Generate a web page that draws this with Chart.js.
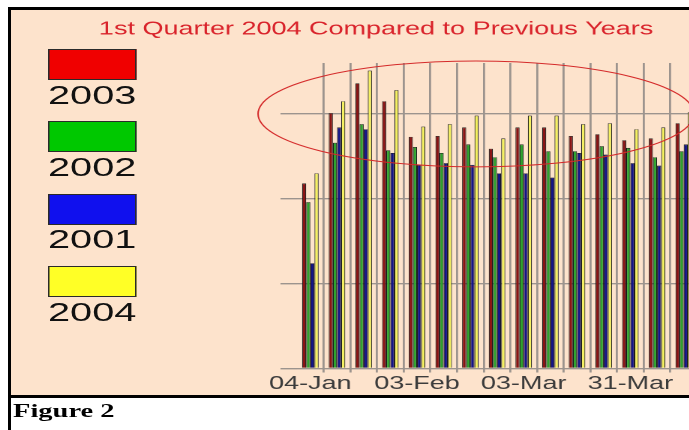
<!DOCTYPE html>
<html><head><meta charset="utf-8">
<script src="https://cdn.jsdelivr.net/npm/chart.js@4/dist/chart.umd.min.js"></script>
<style>
html,body{margin:0;padding:0;background:#fff;width:689px;height:430px;overflow:hidden;}
#frame{position:absolute;left:8px;top:7px;width:720px;height:385px;border-left:3px solid #000;border-top:3px solid #000;border-bottom:3px solid #000;background:#fde3cc;}
#lline{position:absolute;left:8px;top:398px;width:3px;height:40px;background:#000;}
#stage{position:absolute;left:0;top:0;width:501px;height:430px;transform:scaleX(1.5);transform-origin:0 0;}
#wrap{position:absolute;left:0;top:0;width:501px;height:400px;}
.lbox{position:absolute;left:32px;width:57.3px;height:29px;border:1px solid #2a2a2a;}
.ltxt{position:absolute;left:32px;font:26.5px/1 'Liberation Sans',Arial,sans-serif;color:#111;}
#fig{position:absolute;left:8.7px;top:400.5px;font:bold 19px/1 'Liberation Serif','Times New Roman',serif;color:#000;}
</style></head>
<body>
<div id="frame"></div>
<div id="lline"></div>
<div id="stage">
  <div id="wrap"><canvas id="c"></canvas></div>
  <div id="legend"></div>
  <div id="fig">Figure 2</div>
</div>
<script>
// ---- data ----
const titleText = '1st Quarter 2004 Compared to Previous Years';
const tickLabels = ['04-Jan','','','','03-Feb','','','','03-Mar','','','','31-Mar','',''];
const seriesNames = ['2003','2002','2001','2004'];
const values2003 = [218,301,336,315,273,274,284,259,284,284,274,276,269,271,289];
const values2002 = [196,266,288,257,261,254,264,249,264,256,256,262,260,249,256];
const values2001 = [124,284,282,254,240,242,240,230,230,225,254,252,242,239,264];
const values2004 = [230,315,351,328,285,288,298,271,298,298,288,289,282,284,302];
const yGridValues = [0,100,200,300];

// ---- styles ----
const barColors = ['#8a1414','#2ea22e','#141488','#f4f060'];
const legendColors = ['#f00000','#00c800','#1010ee','#ffff26'];
const gridColor = '#9c948e';
const ellipseCenter = [6.21, 300];
const ellipseRadius = [8.17, 62.4];

const seriesValues = [values2003, values2002, values2001, values2004];

// HTML legend (box above label)
const legend = document.getElementById('legend');
seriesNames.forEach((name, i) => {
  const top = 49 + i * 72.33;
  const b = document.createElement('div');
  b.className = 'lbox';
  b.style.top = top + 'px';
  b.style.background = legendColors[i];
  legend.appendChild(b);
  const t = document.createElement('div');
  t.className = 'ltxt';
  t.style.top = (top + 32.6) + 'px';
  t.textContent = name;
  legend.appendChild(t);
});

const ellipsePlugin = {
  id: 'ellipseNote',
  afterDatasetsDraw(chart) {
    const xs = chart.scales.x, ys = chart.scales.y, ctx = chart.ctx;
    const step = xs.getPixelForValue(1) - xs.getPixelForValue(0);
    const cx = xs.getPixelForValue(ellipseCenter[0]);
    const cy = ys.getPixelForValue(ellipseCenter[1]);
    const rx = ellipseRadius[0] * step;
    const ry = Math.abs(ys.getPixelForValue(ellipseCenter[1] + ellipseRadius[1]) - cy);
    ctx.save();
    ctx.beginPath();
    ctx.ellipse(cx, cy, rx, ry, 0, 0, Math.PI * 2);
    ctx.strokeStyle = '#d42a2a';
    ctx.lineWidth = 1;
    ctx.stroke();
    ctx.restore();
  }
};

const fontSans = "'Liberation Sans', Arial, sans-serif";

new Chart(document.getElementById('c'), {
  type: 'bar',
  data: {
    labels: tickLabels,
    datasets: seriesNames.map((name, i) => ({
      label: name,
      data: seriesValues[i],
      backgroundColor: barColors[i],
      borderColor: '#1a1a1a',
      borderWidth: 0.6,
      categoryPercentage: 0.62,
      barPercentage: 1.0
    }))
  },
  options: {
    responsive: true,
    maintainAspectRatio: false,
    animation: false,
    devicePixelRatio: 2,
    layout: { padding: { left: 36.7, right: 36.3, top: 0, bottom: 4.9 } },
    plugins: {
      legend: { display: false },
      tooltip: { enabled: false },
      title: {
        display: true,
        text: titleText,
        color: '#d9232b',
        font: { family: fontSans, size: 18, weight: 'normal' },
        padding: { top: 18.7, bottom: 22.7 }
      }
    },
    scales: {
      x: {
        grid: {
          offset: true,
          color: ctx => ctx.index === 0 ? 'rgba(0,0,0,0)' : gridColor,
          lineWidth: 1.4,
          tickLength: 4,
          drawTicks: true
        },
        border: { display: false },
        ticks: {
          autoSkip: false, maxRotation: 0, minRotation: 0, padding: 0.5,
          color: '#3c3c3c',
          font: { family: fontSans, size: 18 }
        }
      },
      y: {
        min: 0, max: 360,
        grid: { color: gridColor, lineWidth: 1.4, tickLength: 11 },
        border: { display: false },
        ticks: { display: false, stepSize: 100 },
        afterBuildTicks: s => { s.ticks = yGridValues.map(v => ({ value: v })); },
        afterFit: s => { s.width = 161.3; }
      }
    }
  },
  plugins: [ellipsePlugin]
});
</script>
</body></html>
